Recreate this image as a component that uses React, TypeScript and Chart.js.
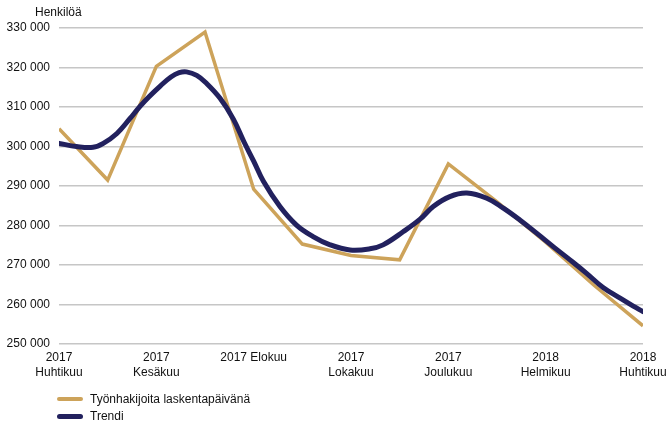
import React, { useEffect, useRef } from "react";
import { Chart, registerables } from "chart.js";

Chart.register(...registerables);

// Monthly actual values (months 0 = 2017 Huhtikuu ... 12 = 2018 Huhtikuu)
const actualMonths = [0, 1, 2, 3, 4, 5, 6, 7, 8, 9, 10, 11, 12];
const actualValues = [304500, 291500, 320300, 329000, 289200, 275300, 272400, 271300, 295600, 286000, 275800, 264800, 254600];

// Trend read at intermediate positions (month units)
const trendMonths = [0, 0.36, 0.7, 0.91, 1.19, 1.46, 1.66, 1.85, 2.08, 2.3, 2.47, 2.62, 2.83, 3.03, 3.31, 3.58, 3.8, 4.0, 4.2, 4.54, 4.88, 5.22, 5.57, 5.98, 6.39, 6.66, 7.07, 7.42, 7.69, 8.03, 8.38, 8.79, 9.13, 9.47, 9.82, 10.16, 10.5, 10.84, 11.18, 11.53, 11.8, 12];
const trendValues = [300800, 300000, 299800, 300800, 303300, 307100, 310100, 312600, 315300, 317600, 318700, 318900, 318000, 316000, 312200, 307000, 301200, 296300, 291200, 284800, 280100, 277200, 275100, 273800, 274100, 275100, 278400, 281600, 284800, 287300, 288200, 286900, 284400, 281400, 278000, 274600, 271300, 267900, 264300, 261600, 259600, 258200];

const xTickLabels: (string | string[])[] = [
  ["2017", "Huhtikuu"], "", ["2017", "Kesäkuu"], "", "2017 Elokuu", "", ["2017", "Lokakuu"], "",
  ["2017", "Joulukuu"], "", ["2018", "Helmikuu"], "", ["2018", "Huhtikuu"],
];

const seriesNames = ["Työnhakijoita laskentapäivänä", "Trendi"];
const yAxisTitle = "Henkilöä";
const yMin = 250000;
const yMax = 330000;
const yStep = 10000;

const GOLD = "#CDA35A";
const NAVY = "#22215E";
const FONT = "'Liberation Sans', Arial, sans-serif";

function fmt(v: number) {
  return String(v).replace(/\B(?=(\d{3})+(?!\d))/g, " ");
}

export default function App() {
  const ref = useRef<HTMLCanvasElement>(null);
  useEffect(() => {
    if (!ref.current) return;
    const chart = new Chart(ref.current, {
      type: "line",
      data: {
        datasets: [
          {
            label: seriesNames[0],
            data: actualMonths.map((m, i) => ({ x: m, y: actualValues[i] })),
            borderColor: GOLD,
            backgroundColor: GOLD,
            borderWidth: 3.5,
            pointRadius: 0,
            tension: 0,
            borderJoinStyle: "miter",
            order: 2,
          },
          {
            label: seriesNames[1],
            data: trendMonths.map((m, i) => ({ x: m, y: trendValues[i] })),
            borderColor: NAVY,
            backgroundColor: NAVY,
            borderWidth: 5,
            pointRadius: 0,
            tension: 0.4,
            borderCapStyle: "round",
            borderJoinStyle: "round",
            order: 1,
          },
        ],
      },
      options: {
        animation: false,
        responsive: false,
        layout: { padding: { top: 28, right: 23, bottom: 0, left: 0 } },
        plugins: { legend: { display: false }, tooltip: { enabled: false } },
        scales: {
          x: {
            type: "linear",
            min: 0,
            max: 12,
            grid: { display: false, drawTicks: false },
            border: { display: false },
            afterFit: (s: any) => {
              s.height = 81;
              s.paddingLeft = 0;
              s.paddingRight = 0;
            },
            ticks: {
              stepSize: 1,
              autoSkip: false,
              maxRotation: 0,
              padding: 6,
              color: "#111",
              font: { family: FONT, size: 12, lineHeight: "15px" },
              callback: (v: any) => xTickLabels[Math.round(Number(v))] ?? "",
            },
          },
          y: {
            min: yMin,
            max: yMax,
            grid: { color: "#c6c6c6", lineWidth: 1.5, drawTicks: false },
            border: { display: false },
            afterFit: (s: any) => {
              s.width = 59;
            },
            ticks: {
              stepSize: yStep,
              padding: 9,
              color: "#111",
              font: { family: FONT, size: 12 },
              callback: (v: any) => fmt(Number(v)),
            },
          },
        },
      },
    } as any);
    return () => chart.destroy();
  }, []);

  const textStyle: React.CSSProperties = {
    position: "absolute",
    fontFamily: FONT,
    fontSize: "12px",
    color: "#111",
    lineHeight: "14px",
    whiteSpace: "nowrap",
  };

  return (
    <div style={{ position: "absolute", left: 0, top: 0, width: 666, height: 425, background: "#fff" }}>
      <canvas ref={ref} width={666} height={425} style={{ display: "block" }} />
      <div style={{ ...textStyle, left: 35, top: 5 }}>{yAxisTitle}</div>
      <div style={{ position: "absolute", left: 57, top: 397, width: 26, height: 4, background: GOLD, borderRadius: 2 }} />
      <div style={{ ...textStyle, left: 90, top: 392 }}>{seriesNames[0]}</div>
      <div style={{ position: "absolute", left: 57, top: 413.5, width: 26, height: 5, background: NAVY, borderRadius: 3 }} />
      <div style={{ ...textStyle, left: 90, top: 409 }}>{seriesNames[1]}</div>
    </div>
  );
}
